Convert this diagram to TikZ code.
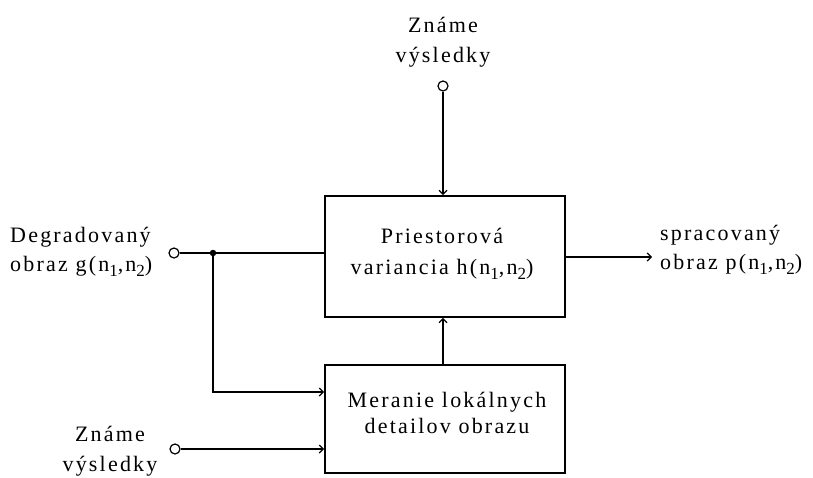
\documentclass[tikz,border=0pt]{standalone}
\usepackage{fontspec}
\setmainfont{Liberation Serif}[LetterSpace=10]
\usetikzlibrary{arrows.meta}
\newcommand\sbs[1]{\raisebox{-5pt}{\fontsize{17}{17}\selectfont #1}}
\tikzset{
  blk/.style={draw, line width=1.8pt, minimum width=240pt, inner sep=0pt},
  lbl/.style={font=\fontsize{22}{29}\selectfont, inner sep=0pt},
  port/.style={circle, draw, line width=1.2pt, fill=white, minimum size=10pt, inner sep=0pt},
  wire/.style={line width=1.8pt},
  arr/.style={wire, -{Straight Barb[length=4pt,width=8pt,line width=1.2pt]}},
  junc/.style={circle, fill=black, minimum size=6.5pt, inner sep=0pt}
}
\begin{document}
\begin{tikzpicture}[x=1pt,y=-1pt]
\useasboundingbox (0,0) rectangle (813,477);
% blocks
\node[blk, minimum height=121pt] (b1) at (445,256.5) {};
\node[lbl, align=center, font=\fontsize{22}{31}\selectfont] (t1) at (442,254) {Priestorová\\variancia h(n\sbs{1},n\sbs{2})};
\node[blk, minimum height=108pt] (b2) at (445,419) {};
\node[lbl, align=center, font=\fontsize{22}{26}\selectfont] (t2) at (447,413) {Meranie lokálnych\\detailov obrazu};
% ports
\node[port] (ctop) at (443,86) {};
\node[lbl, align=center, font=\fontsize{22}{30}\selectfont] (ltop) at (443,42) {Známe\\výsledky};
\node[port] (cdeg) at (174,253) {};
\node[lbl, align=left, anchor=west] (ldeg) at (10,252) {Degradovaný\\obraz g(n\sbs{1},n\sbs{2})};
\node[port] (cbot) at (175,449) {};
\node[lbl, align=center, font=\fontsize{22}{30}\selectfont] (lbot) at (110,451) {Známe\\výsledky};
\node[lbl, align=left, anchor=west] (lout) at (660,250) {spracovaný\\obraz p(n\sbs{1},n\sbs{2})};
\coordinate (outend) at (652,257);
\coordinate (jd) at (213,253);
\coordinate (bend) at (213,392);
% wires
\draw[arr] (ctop) -- (ctop |- b1.north);
\draw[wire] (cdeg) -- (b1.west |- cdeg);
\draw[arr] (jd) -- (bend) -- (b2.west |- bend);
\draw[arr] (cbot) -- (b2.west |- cbot);
\draw[arr] (b2.north -| ctop) -- (b1.south -| ctop);
\draw[arr] (b1.east |- outend) -- (outend);
\node[junc] at (jd) {};
\end{tikzpicture}
\end{document}
